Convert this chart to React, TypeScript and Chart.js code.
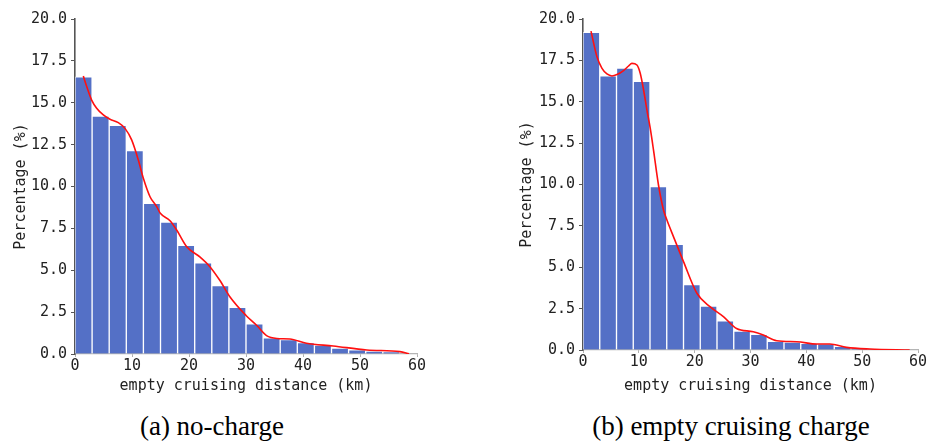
import React, { useEffect, useRef } from "react";
import { Chart, registerables } from "chart.js";

Chart.register(...registerables);

// ---- data ----
const binWidth = 3; // km
const leftBins = [16.55, 14.2, 13.65, 12.14, 9.0, 7.88, 6.49, 5.45, 4.08, 2.79, 1.8, 0.97, 0.86, 0.68, 0.54, 0.36, 0.25, 0.18, 0.13];
const rightBins = [19.2, 16.57, 17.04, 16.23, 9.87, 6.38, 3.95, 2.66, 1.77, 1.15, 0.95, 0.52, 0.48, 0.4, 0.38, 0.22, 0.1, 0.05, 0.03];

const leftCurveX = [1.46, 2.16, 2.92, 3.8, 4.97, 6.14, 7.6, 8.77, 9.94, 11.11, 11.99, 13.16, 14.33, 14.97, 16.67, 17.84, 19.6, 21.9, 23.7, 25.4, 27.2, 30.0, 31.9, 33.6, 35.4, 37.7, 40.6, 45.3, 51.2, 57.0, 58.6];
const leftCurveY = [16.6, 15.86, 15.16, 14.67, 14.27, 14.01, 13.81, 13.47, 12.78, 11.58, 10.49, 9.39, 8.8, 8.4, 7.96, 7.4, 6.4, 5.8, 5.2, 4.4, 3.4, 2.3, 1.7, 1.1, 0.93, 0.9, 0.64, 0.48, 0.24, 0.14, 0.02];

const rightCurveX = [1.43, 2.5, 3.4, 4.29, 5.19, 6.08, 7.27, 8.16, 8.76, 9.66, 10.25, 10.85, 11.45, 12.04, 12.63, 13.52, 14.42, 15.03, 16.2, 18.0, 20.4, 22.8, 25.2, 27.5, 30.5, 32.3, 34.7, 38.3, 41.9, 44.2, 47.2, 51.4, 58.5];
const rightCurveY = [19.27, 17.72, 17.02, 16.68, 16.56, 16.64, 16.88, 17.16, 17.32, 17.22, 16.72, 15.71, 14.5, 13.4, 12.08, 9.97, 8.46, 7.85, 6.85, 5.34, 3.43, 2.6, 2.0, 1.3, 1.1, 0.9, 0.56, 0.5, 0.36, 0.36, 0.16, 0.06, 0.0];

const xTickStep = 10;
const yTickStep = 2.5;
const xMax = 60;
const yMax = 20;
const xTitle = "empty cruising distance (km)";
const yTitle = "Percentage (%)";
const captions = ["(a) no-charge", "(b) empty cruising charge"];

const MONO = "'DejaVu Sans Mono', 'Liberation Mono', monospace";

type PanelProps = {
  bins: number[];
  cx: number[];
  cy: number[];
  left: number;
  width: number;
  padLeft: number;
  padRight: number;
  yAxisWidth: number;
  xAxisHeight: number;
};

function Panel(p: PanelProps) {
  const ref = useRef<HTMLCanvasElement | null>(null);
  useEffect(() => {
    if (!ref.current) return;
    const barData = p.bins.map((v, i) => ({ x: i * binWidth + binWidth / 2, y: v }));
    const lineData = p.cx.map((x, i) => ({ x, y: p.cy[i] }));
    const chart = new Chart(ref.current, {
      type: "bar",
      data: {
        datasets: [
          {
            type: "line",
            data: lineData,
            borderColor: "#ff1010",
            borderWidth: 1.6,
            pointRadius: 0,
            fill: false,
            cubicInterpolationMode: "monotone",
            order: 0,
          } as any,
          {
            type: "bar",
            data: barData,
            backgroundColor: "#5470c6",
            borderColor: "rgba(255,255,255,0.7)",
            borderWidth: 1,
            barPercentage: 1,
            categoryPercentage: 1,
            order: 1,
          } as any,
        ],
      },
      options: {
        responsive: false,
        animation: false,
        devicePixelRatio: 1,
        layout: { padding: { top: 19, right: p.padRight, left: p.padLeft, bottom: 0 } },
        plugins: { legend: { display: false }, tooltip: { enabled: false } },
        scales: {
          x: {
            type: "linear",
            min: 0,
            max: xMax,
            offset: false,
            afterFit: (s: any) => {
              s.height = p.xAxisHeight;
            },
            ticks: {
              stepSize: xTickStep,
              autoSkip: false,
              maxRotation: 0,
              padding: 0,
              color: "#222",
              font: { family: MONO, size: 15 },
            },
            grid: { drawOnChartArea: false, tickLength: 3, color: "#b0b0b0", offset: false },
            border: { color: "#b4b4b4", width: 1.2 },
            title: {
              display: true,
              text: xTitle,
              color: "#222",
              font: { family: MONO, size: 15 },
              padding: { top: 0, bottom: 5 },
            },
          },
          y: {
            type: "linear",
            min: 0,
            max: yMax,
            afterFit: (s: any) => {
              s.width = p.yAxisWidth;
            },
            ticks: {
              stepSize: yTickStep,
              padding: 4,
              color: "#222",
              font: { family: MONO, size: 15 },
              callback: (v: any) => Number(v).toFixed(1),
            },
            grid: { drawOnChartArea: false, tickLength: 4, color: "#555" },
            border: { color: "#555", width: 1.6 },
            title: {
              display: true,
              text: yTitle,
              color: "#222",
              font: { family: MONO, size: 15 },
              padding: { top: 12, bottom: 0 },
            },
          },
        },
      } as any,
    });
    return () => chart.destroy();
  }, []);
  return (
    <canvas
      ref={ref}
      width={p.width}
      height={400}
      style={{ position: "absolute", left: p.left, top: 0, width: p.width, height: 400 }}
    />
  );
}

export default function App() {
  return (
    <div style={{ position: "fixed", left: 0, top: 0, width: 930, height: 443, background: "#fff", overflow: "hidden" }}>
      <Panel bins={leftBins} cx={leftCurveX} cy={leftCurveY} left={0} width={440} padLeft={0} padRight={23} yAxisWidth={75} xAxisHeight={46} />
      <Panel bins={rightBins} cx={rightCurveX} cy={rightCurveY} left={470} width={460} padLeft={36} padRight={12} yAxisWidth={77} xAxisHeight={50} />
      <div
        style={{
          position: "absolute",
          left: 212 - 200,
          width: 400,
          top: 411,
          textAlign: "center",
          fontFamily: "'Liberation Serif', 'Times New Roman', serif",
          fontSize: 27,
          lineHeight: "30px",
          color: "#000",
        }}
      >
        {captions[0]}
      </div>
      <div
        style={{
          position: "absolute",
          left: 731 - 200,
          width: 400,
          top: 411,
          textAlign: "center",
          fontFamily: "'Liberation Serif', 'Times New Roman', serif",
          fontSize: 27,
          lineHeight: "30px",
          color: "#000",
        }}
      >
        {captions[1]}
      </div>
    </div>
  );
}
